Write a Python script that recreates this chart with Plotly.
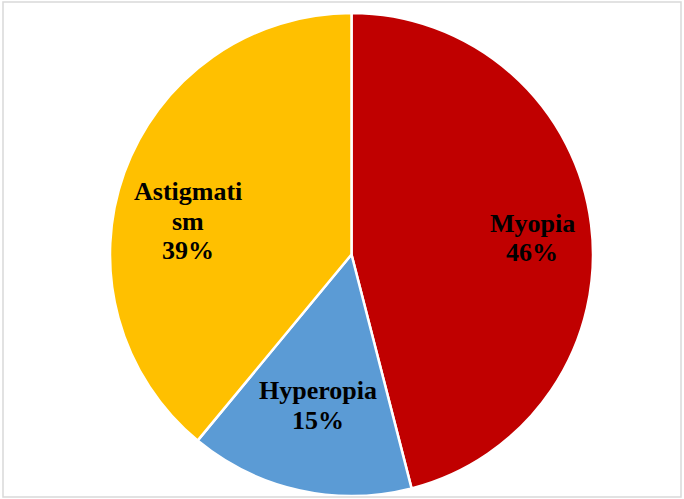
import plotly.graph_objects as go

W, H = 684, 499

labels = ["Myopia", "Hyperopia", "Astigmatism"]
label_lines = [["Myopia"], ["Hyperopia"], ["Astigmati", "sm"]]
values = [46, 15, 39]
colors = ["#C00000", "#5B9BD5", "#FFC000"]

fig = go.Figure(go.Pie(
    labels=labels,
    values=values,
    sort=False,
    direction="clockwise",
    rotation=0,
    marker=dict(colors=colors, line=dict(color="white", width=2.5)),
    textinfo="none",
    hoverinfo="label+percent",
    domain=dict(x=[110 / W, 593 / W], y=[3 / H, 486 / H]),
))

# label block centres in pixels, placed like the original
centres = [(532, 238), (318, 405), (188, 221)]
line_gap = 30
for (cx, cy), lines, v in zip(centres, label_lines, values):
    rows = lines + [f"{v}%"]
    n = len(rows)
    for i, row in enumerate(rows):
        y = cy + (i - (n - 1) / 2) * line_gap
        fig.add_annotation(
            x=cx / W, y=1 - y / H, xref="paper", yref="paper",
            xanchor="center", yanchor="middle",
            text=f"<b>{row}</b>", showarrow=False,
            font=dict(family="Liberation Serif, Times New Roman, serif", size=26, color="black"),
        )

fig.add_shape(type="rect", xref="paper", yref="paper",
              x0=3 / W, x1=681 / W, y0=2 / H, y1=497 / H,
              line=dict(color="#D9D9D9", width=1.5))

fig.update_layout(
    width=W, height=H,
    margin=dict(l=0, r=0, t=0, b=0),
    showlegend=False,
    paper_bgcolor="white",
    plot_bgcolor="white",
)

fig.write_html("out.html", config={"displayModeBar": False},
               post_script="document.body.style.margin='0';")
